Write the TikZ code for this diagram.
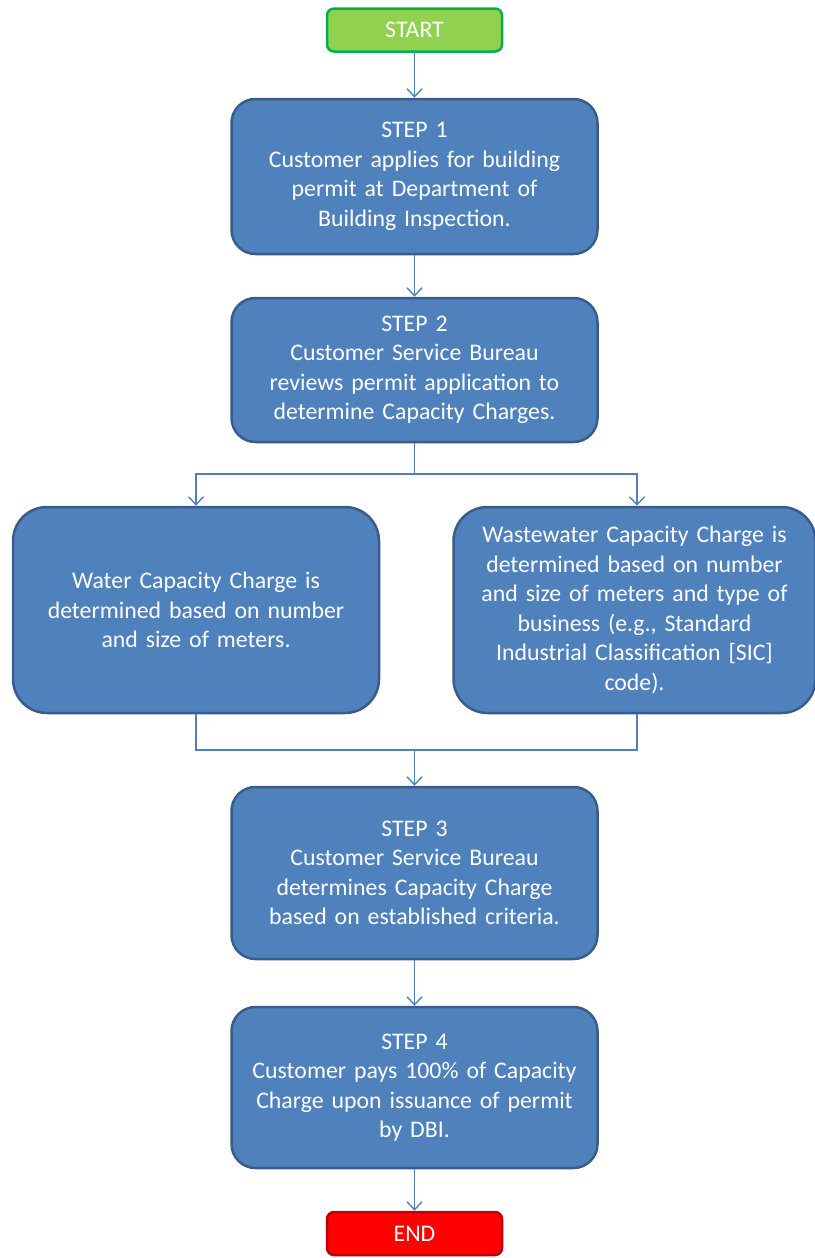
\documentclass[tikz,border=0pt]{standalone}
\usepackage{fontspec}
\setmainfont{Carlito}
\usetikzlibrary{arrows.meta}
\definecolor{boxfill}{HTML}{4F81BD}
\definecolor{boxline}{HTML}{385D8A}
\definecolor{conncol}{HTML}{4F81BD}
\definecolor{startfill}{HTML}{92D050}
\definecolor{startline}{HTML}{00B050}
\definecolor{endfill}{HTML}{FF0000}
\definecolor{endline}{HTML}{C00000}
\tikzset{
  txt/.style={text=white, font=\fontsize{23.8}{29.5}\selectfont, align=center, inner sep=0pt},
  stepbox/.style={txt, draw=boxline, fill=boxfill, line width=2.5pt, rounded corners=24pt, minimum width=366pt, text width=350pt},
  termbox/.style={txt, line width=2.5pt, rounded corners=7pt, minimum width=175pt, minimum height=43pt},
  conn/.style={draw=conncol, line width=1.4pt},
  arr/.style={conn, -{Straight Barb[length=8pt,width=15pt,line width=1.4pt]}}
}
\begin{document}
\begin{tikzpicture}[x=1pt,y=-1pt]
\useasboundingbox (0,0) rectangle (814,1258);
\node[termbox, draw=startline, fill=startfill] (start) at (414.5,30) {START};
\node[stepbox, minimum height=155pt] (s1) at (414.5,176.5) {STEP 1\\Customer applies for building\\permit at Department of\\Building Inspection.};
\node[stepbox, minimum height=144pt] (s2) at (414.5,370) {STEP 2\\Customer Service Bureau\\reviews permit application to\\determine Capacity Charges.};
\node[stepbox, minimum height=206pt, rounded corners=34pt] (water) at (196,610) {Water Capacity Charge is\\determined based on number\\and size of meters.};
\node[stepbox, minimum height=206pt, minimum width=362pt, rounded corners=34pt] (waste) at (634.5,610) {Wastewater Capacity Charge is\\determined based on number\\and size of meters and type of\\business (e.g., Standard\\Industrial Classification [SIC]\\code).};
\node[stepbox, minimum height=172pt] (s3) at (414.5,873) {STEP 3\\Customer Service Bureau\\determines Capacity Charge\\based on established criteria.};
\node[stepbox, minimum height=161pt] (s4) at (414.5,1087.5) {STEP 4\\Customer pays 100\% of Capacity\\Charge upon issuance of permit\\by DBI.};
\node[termbox, draw=endline, fill=endfill] (end) at (414.5,1233.5) {END};

\draw[arr] (start) -- (s1);
\draw[arr] (s1) -- (s2);
\coordinate (sp) at (414.5,474);
\draw[conn] (s2.south) -- (sp);
\draw[arr] (sp) -| (water.north);
\draw[arr] (sp) -| ([xshift=2.5pt]waste.north);
\coordinate (mg) at (414.5,750);
\draw[conn] (water.south) |- (mg);
\draw[conn] ([xshift=2.5pt]waste.south) |- (mg);
\draw[arr] (mg) -- (s3.north);
\draw[arr] (s3) -- (s4);
\draw[arr] (s4) -- (end);
\end{tikzpicture}
\end{document}
